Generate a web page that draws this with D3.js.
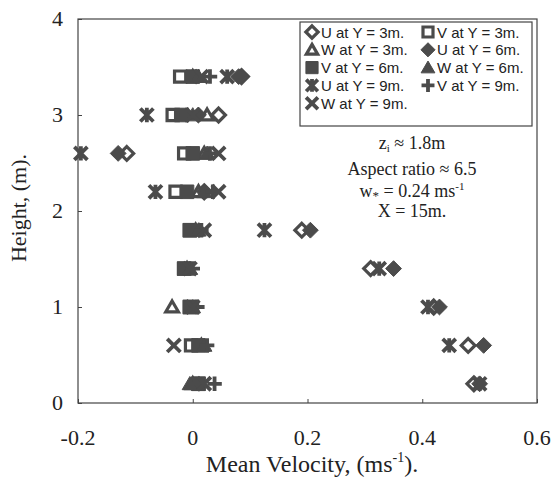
<!DOCTYPE html>
<html>
<head>
<meta charset="utf-8">
<script src="https://cdn.jsdelivr.net/npm/d3@7"></script>
<style>
  body { margin: 0; background: #fff; }
  svg { display: block; }
</style>
</head>
<body>
<div id="chart"></div>
<script>
// heights (m) where the profiles were measured
const heights = [0.2, 0.6, 1.0, 1.4, 1.8, 2.2, 2.6, 3.0, 3.4];

// mean velocity (m/s) at each height
const u3 = [0.49, 0.48, 0.42, 0.31, 0.19, 0.02, -0.115, 0.045, 0.085];
const v3 = [0.01, -0.003, -0.005, -0.015, -0.005, -0.03, -0.015, -0.035, -0.022];
const w3 = [0.0, 0.015, -0.036, -0.01, 0.005, 0.01, 0.02, 0.025, 0.0];
const u6 = [0.5, 0.507, 0.43, 0.35, 0.205, 0.02, -0.13, 0.01, 0.08];
const v6 = [0.01, 0.01, -0.005, -0.015, -0.005, -0.01, 0.0, -0.02, 0.0];
const w6 = [-0.005, 0.02, 0.0, -0.005, 0.01, 0.02, 0.025, 0.0, 0.01];
const u9 = [0.5, 0.447, 0.41, 0.325, 0.125, -0.065, -0.195, -0.08, 0.06];
const v9 = [0.038, 0.025, 0.008, 0.0, 0.015, 0.035, 0.03, -0.01, 0.03];
const w9 = [0.02, -0.033, 0.0, -0.005, 0.02, 0.045, 0.045, 0.0, 0.015];

const seriesNames = ["U at Y = 3m.", "V at Y = 3m.", "W at Y = 3m.",
                     "U at Y = 6m.", "V at Y = 6m.", "W at Y = 6m.",
                     "U at Y = 9m.", "V at Y = 9m.", "W at Y = 9m."];

const xTicks = [-0.2, 0, 0.2, 0.4, 0.6];
const yTicks = [0, 1, 2, 3, 4];

const notes = ["≈ 1.8m", "Aspect ratio ≈ 6.5", "= 0.24 ms", "X = 15m."];

const width = 551, height = 477;
const plot = { left: 78, right: 537, top: 19, bottom: 403 };
const ink = "#4b4b4b";
const serif = "'Liberation Serif', 'Times New Roman', Times, serif";
const sans = "'Liberation Sans', Arial, sans-serif";

// marker shapes, size = area like d3's own symbols
const diamond = { draw(c, s) { const r = Math.sqrt(s) / 2; c.moveTo(0, -r); c.lineTo(r, 0); c.lineTo(0, r); c.lineTo(-r, 0); c.closePath(); } };
const square = { draw(c, s) { const r = Math.sqrt(s) / 2; c.rect(-r, -r, 2 * r, 2 * r); } };
const triangle = { draw(c, s) { const r = Math.sqrt(s) / 2; c.moveTo(0, -r); c.lineTo(r * 1.05, r * 0.8); c.lineTo(-r * 1.05, r * 0.8); c.closePath(); } };
const star = { draw(c, s) { const r = Math.sqrt(s) / 2; c.moveTo(-r, -r); c.lineTo(r, r); c.moveTo(-r, r); c.lineTo(r, -r); c.moveTo(0, -r * 1.1); c.lineTo(0, r * 1.1); } };
const cross = { draw(c, s) { const r = Math.sqrt(s) / 2; c.moveTo(-r, -r); c.lineTo(r, r); c.moveTo(-r, r); c.lineTo(r, -r); } };
const plus = { draw(c, s) { const r = Math.sqrt(s) / 2; c.moveTo(-r, 0); c.lineTo(r, 0); c.moveTo(0, -r); c.lineTo(0, r); } };

const series = [
  { name: seriesNames[0], values: u3, type: diamond, style: "hollow", size: 190 },
  { name: seriesNames[1], values: v3, type: square, style: "hollow", size: 125 },
  { name: seriesNames[2], values: w3, type: triangle, style: "hollow", size: 145 },
  { name: seriesNames[3], values: u6, type: diamond, style: "filled", size: 250 },
  { name: seriesNames[4], values: v6, type: square, style: "filled", size: 185 },
  { name: seriesNames[5], values: w6, type: triangle, style: "filled", size: 215 },
  { name: seriesNames[6], values: u9, type: star, style: "line", size: 170 },
  { name: seriesNames[7], values: v9, type: plus, style: "line", size: 210 },
  { name: seriesNames[8], values: w9, type: cross, style: "line", size: 175 }
];

const svg = d3.select("#chart").append("svg")
  .attr("width", width)
  .attr("height", height);

svg.append("rect").attr("width", width).attr("height", height).attr("fill", "#fff");

const x = d3.scaleLinear().domain([-0.2, 0.6]).range([plot.left, plot.right]);
const y = d3.scaleLinear().domain([0, 4]).range([plot.bottom, plot.top]);

// frame
svg.append("rect")
  .attr("x", plot.left).attr("y", plot.top)
  .attr("width", plot.right - plot.left).attr("height", plot.bottom - plot.top)
  .attr("fill", "none").attr("stroke", "#444").attr("stroke-width", 1.2);

// axes: inward ticks, labels placed by hand
const xAxis = svg.append("g")
  .attr("transform", `translate(0,${plot.bottom})`)
  .call(d3.axisTop(x).tickValues(xTicks).tickSize(4).tickFormat(""));
xAxis.select(".domain").remove();
xAxis.selectAll("line").attr("stroke", "#444");

const yAxis = svg.append("g")
  .attr("transform", `translate(${plot.left},0)`)
  .call(d3.axisRight(y).tickValues(yTicks).tickSize(4).tickFormat(""));
yAxis.select(".domain").remove();
yAxis.selectAll("line").attr("stroke", "#444");

svg.append("g").selectAll("text")
  .data(xTicks)
  .enter().append("text")
  .attr("font-family", serif).attr("fill", "#222")
  .attr("x", d => x(d))
  .attr("y", 445)
  .attr("text-anchor", "middle")
  .attr("font-size", 22)
  .text(d => d === 0 ? "0" : d3.format(".1f")(d).replace("−", "-"));

svg.append("g").selectAll("text")
  .data(yTicks)
  .enter().append("text")
  .attr("font-family", serif).attr("fill", "#222")
  .attr("x", 63)
  .attr("y", d => y(d) + 7)
  .attr("text-anchor", "end")
  .attr("font-size", 22)
  .text(d => d);

// axis titles
const xTitle = svg.append("text")
  .attr("font-family", serif).attr("fill", "#222")
  .attr("x", 312).attr("y", 472)
  .attr("text-anchor", "middle")
  .attr("font-size", 24);
xTitle.append("tspan").text("Mean Velocity, (ms");
xTitle.append("tspan").attr("font-size", 14).attr("dy", -10).text("-1");
xTitle.append("tspan").attr("dy", 10).text(").");

svg.append("text")
  .attr("font-family", serif).attr("fill", "#222")
  .attr("transform", "translate(26,208) rotate(-90)")
  .attr("text-anchor", "middle")
  .attr("font-size", 22)
  .text("Height, (m).");

// markers
const symbol = d3.symbol();

function styleMarker(sel, s) {
  if (s.style === "hollow") {
    sel.attr("fill", "#fff").attr("stroke", ink).attr("stroke-width", 3.2);
  } else if (s.style === "filled") {
    sel.attr("fill", ink).attr("stroke", ink).attr("stroke-width", 1);
  } else {
    sel.attr("fill", "none").attr("stroke", ink).attr("stroke-width", 3.8).attr("stroke-linecap", "butt");
  }
}

const marks = svg.append("g").attr("class", "marks");
series.forEach(s => {
  const g = marks.append("g");
  g.selectAll("path")
    .data(heights.map((h, i) => ({ h, v: s.values[i] })))
    .enter().append("path")
    .attr("transform", d => `translate(${x(d.v)},${y(d.h)})`)
    .attr("d", symbol.type(s.type).size(s.size)())
    .call(styleMarker, s);
});

// legend
const legend = svg.append("g").attr("class", "legend");
legend.append("rect")
  .attr("x", 300).attr("y", 22)
  .attr("width", 232).attr("height", 104)
  .attr("fill", "#fff").attr("stroke", "#444").attr("stroke-width", 1.2);

const legendItems = legend.selectAll("g.item")
  .data(series)
  .enter().append("g")
  .attr("class", "item")
  .attr("transform", (d, i) => `translate(${i % 2 === 0 ? 312 : 428},${32 + Math.floor(i / 2) * 17.8})`);

legendItems.each(function (s) {
  const item = d3.select(this);
  item.append("path")
    .attr("d", symbol.type(s.type).size(s.size * 0.8)())
    .call(styleMarker, s);
  item.append("text")
    .attr("font-family", sans).attr("fill", "#222")
    .attr("x", 9).attr("y", 5.5)
    .attr("font-size", 15)
    .text(s.name);
});

// run notes
const noteX = 412;
const n1 = svg.append("text").attr("font-family", serif).attr("fill", "#222").attr("x", noteX).attr("y", 149)
  .attr("text-anchor", "middle").attr("font-size", 18);
n1.append("tspan").text("z");
n1.append("tspan").attr("font-size", 11).attr("dy", 3).text("i");
n1.append("tspan").attr("dy", -3).text(" " + notes[0]);

svg.append("text").attr("font-family", serif).attr("fill", "#222").attr("x", noteX).attr("y", 175)
  .attr("text-anchor", "middle").attr("font-size", 18).text(notes[1]);

const n3 = svg.append("text").attr("font-family", serif).attr("fill", "#222").attr("x", noteX).attr("y", 197)
  .attr("text-anchor", "middle").attr("font-size", 18);
n3.append("tspan").text("w");
n3.append("tspan").attr("font-size", 13).attr("dy", 3).text("*");
n3.append("tspan").attr("dy", -3).text(" " + notes[2]);
n3.append("tspan").attr("font-size", 11).attr("dy", -7).text("-1");

svg.append("text").attr("font-family", serif).attr("fill", "#222").attr("x", noteX).attr("y", 217)
  .attr("text-anchor", "middle").attr("font-size", 18).text(notes[3]);
</script>
</body>
</html>
